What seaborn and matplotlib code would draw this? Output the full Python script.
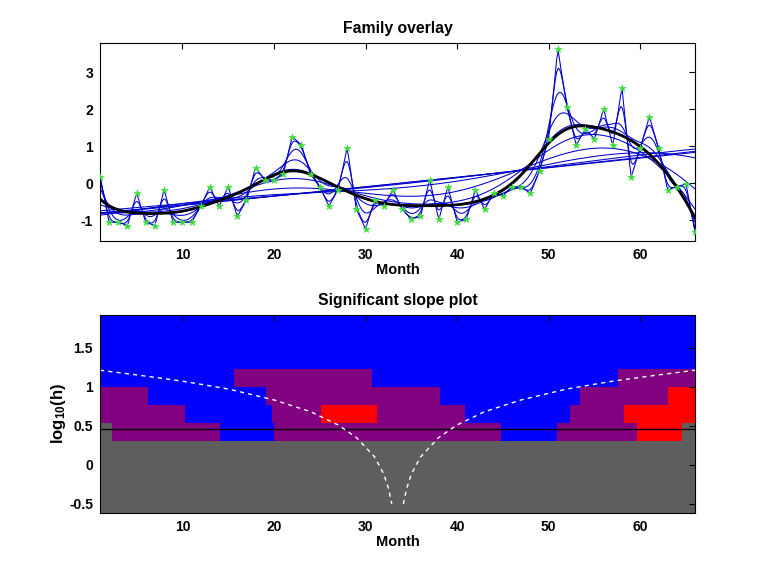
import numpy as np
import seaborn as sns
import matplotlib.pyplot as plt
from matplotlib.colors import ListedColormap

# monthly series (standardised)
MONTHS = list(range(1, 67))
VALUES = [0.18, -1.05, -1.05, -1.14, -0.27, -1.05, -1.14, -0.18, -1.05, -1.05,
          -1.05, -0.62, -0.10, -0.62, -0.10, -0.89, -0.45, 0.42, 0.09, 0.09,
          0.24, 1.26, 1.03, 0.24, -0.09, -0.61, -0.18, 0.95, -0.70, -1.22,
          -0.45, -0.61, -0.18, -0.70, -0.97, -0.89, 0.09, -0.97, -0.10, -1.05,
          -0.97, -0.18, -0.70, -0.27, -0.34, -0.09, -0.09, -0.27, 0.33, 1.20,
          3.61, 2.06, 1.03, 1.46, 1.20, 1.99, 1.03, 2.57, 0.17, 0.95,
          1.79, 0.95, -0.18, -0.09, -0.02, -1.32]

# bandwidth grid (log10 h) and the highlighted bandwidth
LOG_H = [-0.5, -0.27, -0.04, 0.19, 0.42, 0.65, 0.88, 1.11, 1.34, 1.57, 1.8]
LOG_H_SEL = 0.46

# SiZer map: per bandwidth row, breakpoints in x and the status of each piece
STATUS_COLORS = {'gray': '#5e5e5e', 'purple': '#800080', 'blue': '#0000ff', 'red': '#ff0000'}
MAP_BREAKS = {
    0: [1, 66], 1: [1, 66], 2: [1, 66], 3: [1, 66],
    4: [1, 2.28, 14.1, 20.0, 44.8, 50.96, 59.63, 64.61, 66],
    5: [1, 10.29, 19.76, 25.1, 31.2, 40.87, 52.35, 58.28, 66],
    6: [1, 6.28, 19.1, 38.14, 53.44, 63.08, 66],
    7: [1, 15.67, 30.68, 57.62, 66],
    8: [1, 66], 9: [1, 66], 10: [1, 66],
}
MAP_STATUS = {
    0: ['gray'], 1: ['gray'], 2: ['gray'], 3: ['gray'],
    4: ['gray', 'purple', 'blue', 'purple', 'blue', 'purple', 'red', 'gray'],
    5: ['purple', 'blue', 'purple', 'red', 'purple', 'blue', 'purple', 'red'],
    6: ['purple', 'blue', 'purple', 'blue', 'purple', 'red'],
    7: ['blue', 'purple', 'blue', 'purple'],
    8: ['blue'], 9: ['blue'], 10: ['blue'],
}

# dashed white "effective window" curves
WIN_LEFT_X = [1, 5, 10, 15, 20, 24, 27, 29, 31, 32, 32.5, 32.87]
WIN_LEFT_Y = [1.21, 1.15, 1.07, 0.97, 0.83, 0.68, 0.51, 0.35, 0.10, -0.12, -0.30, -0.5]
WIN_RIGHT_X = [34.13, 34.5, 35, 36, 38, 40, 43, 47, 52, 57, 62, 66]
WIN_RIGHT_Y = [-0.5, -0.30, -0.12, 0.10, 0.35, 0.51, 0.68, 0.83, 0.97, 1.07, 1.15, 1.21]


def loclin(xg, x, y, h):
    # local linear gaussian smoother
    d = xg[:, None] - x[None, :]
    w = np.exp(-0.5 * (d / h) ** 2)
    s0 = w.sum(1); s1 = (w * d).sum(1); s2 = (w * d * d).sum(1)
    t0 = (w * y).sum(1); t1 = (w * d * y).sum(1)
    return (s2 * t0 - s1 * t1) / (s2 * s0 - s1 ** 2)


def style_axis(ax):
    ax.tick_params(direction='in', length=4, width=0.8, top=True, right=True,
                   labelsize=10, pad=5, colors='black')
    for lab in ax.get_xticklabels() + ax.get_yticklabels():
        lab.set_fontweight('bold')
    for s in ax.spines.values():
        s.set_visible(True)
        s.set_linewidth(0.8)
        s.set_color('black')


def main():
    sns.set_theme(style='white')
    plt.rcParams['font.family'] = ['Liberation Sans', 'DejaVu Sans']
    plt.rcParams['mathtext.fontset'] = 'custom'
    plt.rcParams['mathtext.bf'] = 'Liberation Sans:bold'
    plt.rcParams['mathtext.rm'] = 'Liberation Sans:bold'
    plt.rcParams['mathtext.default'] = 'bf'
    plt.rcParams['axes.unicode_minus'] = False
    plt.rcParams['text.color'] = 'black'
    plt.rcParams['axes.labelcolor'] = 'black'

    x = np.array(MONTHS, dtype=float)
    y = np.array(VALUES)
    xg = np.linspace(x.min(), x.max(), 401)

    fig = plt.figure(figsize=(7.69, 5.77), dpi=100)
    ax1 = fig.add_axes([0.130, 0.5823, 0.774, 0.343])
    ax2 = fig.add_axes([0.130, 0.111, 0.774, 0.343])

    # family overlay
    for lh in LOG_H:
        fit = loclin(xg, x, y, 10 ** lh)
        sns.lineplot(x=xg, y=fit, ax=ax1, color='#0000cc', lw=0.75, sort=False,
                     estimator=None)
    fit_sel = loclin(xg, x, y, 10 ** LOG_H_SEL)
    sns.lineplot(x=xg, y=fit_sel, ax=ax1, color='black', lw=2, sort=False,
                 estimator=None)
    sns.scatterplot(x=x, y=y, ax=ax1, marker='*', s=28, color='#3ddc3d',
                    edgecolor='#3ddc3d', linewidth=0.4, zorder=5)
    ax1.set_xlim(1, 66)
    ax1.set_ylim(-1.556, 3.78)
    ax1.set_xticks([10, 20, 30, 40, 50, 60])
    ax1.set_yticks([-1, 0, 1, 2, 3])
    ax1.set_title('Family overlay', fontsize=11.3, fontweight='bold', pad=7)
    ax1.set_xlabel('Month', fontsize=10.5, fontweight='bold', labelpad=1)
    style_axis(ax1)

    # significant slope map
    names = list(STATUS_COLORS.keys())
    cmap = ListedColormap([STATUS_COLORS[n] for n in names])
    half = (LOG_H[1] - LOG_H[0]) / 2
    for i, lh in enumerate(LOG_H):
        codes = np.array([[names.index(s) for s in MAP_STATUS[i]]])
        ax2.pcolormesh(MAP_BREAKS[i], [lh - half, lh + half], codes, cmap=cmap,
                       vmin=-0.5, vmax=len(names) - 0.5, shading='flat',
                       edgecolors='none', antialiased=False)
    ax2.axhline(LOG_H_SEL, color='black', lw=1)
    sns.lineplot(x=WIN_LEFT_X, y=WIN_LEFT_Y, ax=ax2, color='white', lw=1,
                 sort=False, estimator=None, dashes=False, linestyle=(0, (3, 3)))
    sns.lineplot(x=WIN_RIGHT_X, y=WIN_RIGHT_Y, ax=ax2, color='white', lw=1,
                 sort=False, estimator=None, dashes=False, linestyle=(0, (3, 3)))
    ax2.set_xlim(1, 66)
    ax2.set_ylim(LOG_H[0] - half, LOG_H[-1] + half)
    ax2.set_xticks([10, 20, 30, 40, 50, 60])
    ax2.set_yticks([-0.5, 0, 0.5, 1, 1.5])
    ax2.set_yticklabels(['-0.5', '0', '0.5', '1', '1.5'])
    ax2.set_title('Significant slope plot', fontsize=11.3, fontweight='bold', pad=7)
    ax2.set_xlabel('Month', fontsize=10.5, fontweight='bold', labelpad=1)
    ax2.set_ylabel(r'log$_{10}$(h)', fontsize=12, fontweight='bold', labelpad=1)
    style_axis(ax2)
    ax2.set_axisbelow(False)

    fig.savefig('out.png', dpi=100)
    plt.close(fig)


if __name__ == '__main__':
    main()
